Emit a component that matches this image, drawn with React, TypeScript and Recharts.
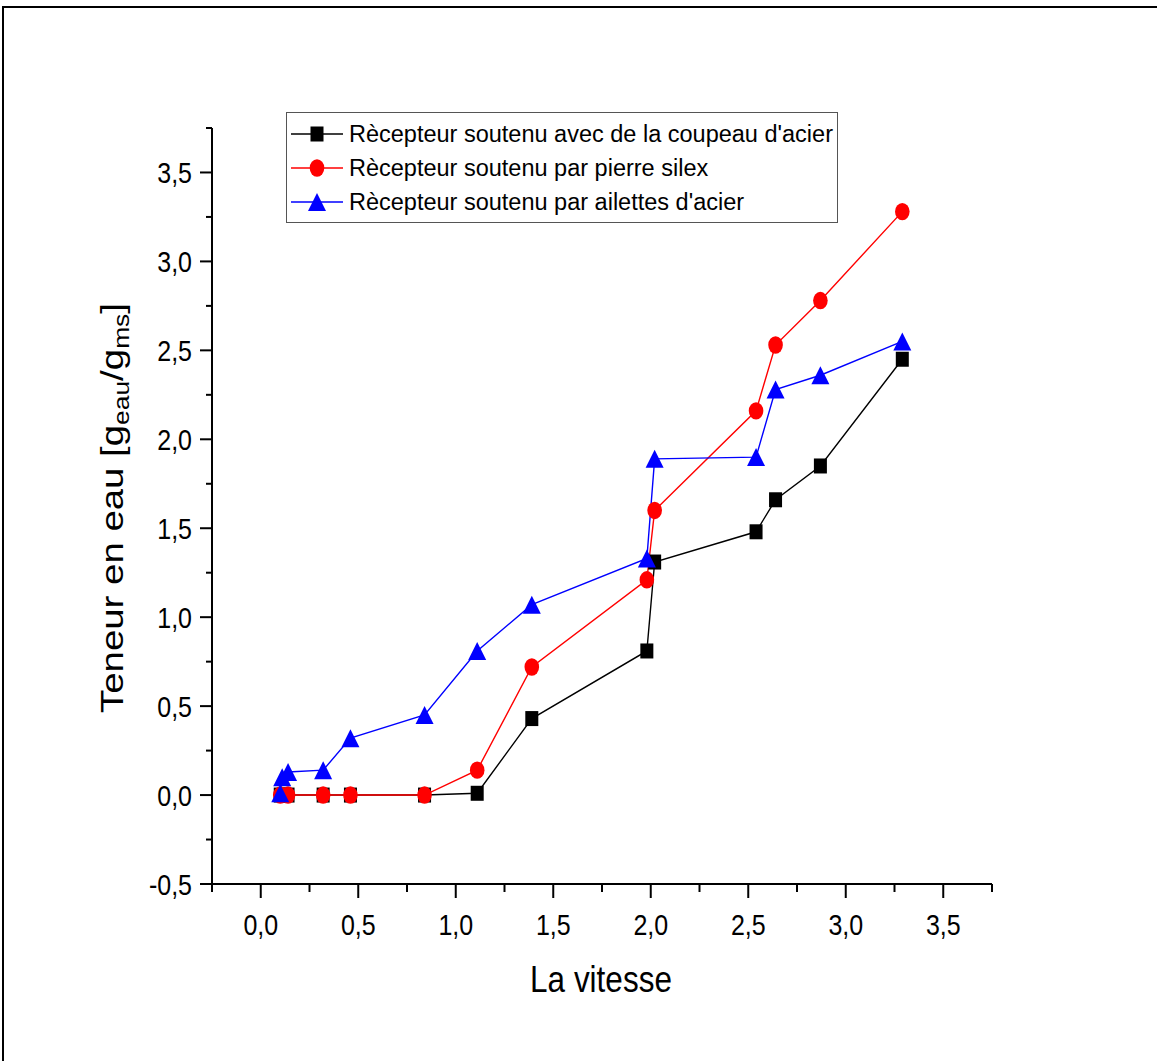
import React from 'react';
import { LineChart, Line, XAxis, YAxis, Legend } from 'recharts';

// vitesse values (same for the steel-chip and flint series)
const xsAcier = [0.1, 0.14, 0.32, 0.46, 0.84, 1.11, 1.39, 1.98, 2.02, 2.54, 2.64, 2.87, 3.29];
const ysCoupeau = [0, 0, 0, 0, 0, 0.01, 0.43, 0.81, 1.31, 1.48, 1.66, 1.85, 2.45];
const ysSilex = [0, 0, 0, 0, 0, 0.14, 0.72, 1.21, 1.6, 2.16, 2.53, 2.78, 3.28];

const xsAilettes = [0.1, 0.11, 0.14, 0.32, 0.46, 0.84, 1.11, 1.39, 1.98, 2.02, 2.54, 2.64, 2.87, 3.29];
const ysAilettes = [0.01, 0.1, 0.13, 0.14, 0.32, 0.45, 0.81, 1.07, 1.33, 1.89, 1.9, 2.28, 2.36, 2.55];

const xTicks = [-0.25, 0, 0.25, 0.5, 0.75, 1, 1.25, 1.5, 1.75, 2, 2.25, 2.5, 2.75, 3, 3.25, 3.5, 3.75];
const yTicks = [-0.5, -0.25, 0, 0.25, 0.5, 0.75, 1, 1.25, 1.5, 1.75, 2, 2.25, 2.5, 2.75, 3, 3.25, 3.5, 3.75];

const zip = (xs: number[], ys: number[]) => xs.map((x, i) => ({ x, y: ys[i] }));

const FONT = "'Liberation Sans', Arial, sans-serif";

type Shape = 'square' | 'circle' | 'triangle';

const series = [
  { name: "Rècepteur soutenu avec de la coupeau d'acier", color: '#000000', shape: 'square' as Shape, data: zip(xsAcier, ysCoupeau) },
  { name: 'Rècepteur soutenu par pierre silex', color: '#ff0000', shape: 'circle' as Shape, data: zip(xsAcier, ysSilex) },
  { name: "Rècepteur soutenu par ailettes d'acier", color: '#0000ff', shape: 'triangle' as Shape, data: zip(xsAilettes, ysAilettes) },
];

const Marker = ({ cx, cy, shape, color }: { cx: number; cy: number; shape: Shape; color: string }) => {
  if (shape === 'square') return <rect x={cx - 6.5} y={cy - 7.5} width={13} height={15} fill={color} />;
  if (shape === 'circle') return <ellipse cx={cx} cy={cy} rx={7.3} ry={8.7} fill={color} />;
  return <polygon points={`${cx},${cy - 9} ${cx + 9},${cy + 9} ${cx - 9},${cy + 9}`} fill={color} />;
};

const isMajor = (v: number) => Math.abs(v * 2 - Math.round(v * 2)) < 1e-6;
const fmt = (v: number) => v.toFixed(1).replace('.', ',');

// the source picture is stretched vertically, so the labels are drawn a bit tall
const XTick = (props: any) => {
  const { x, y, payload } = props;
  const major = isMajor(payload.value);
  return (
    <g>
      <line x1={x} x2={x} y1={y} y2={y + (major ? 14 : 8)} stroke="#000" strokeWidth={2} />
      {major && (
        <text
          transform={`translate(${x},${y + 51}) scale(1,1.2)`}
          textAnchor="middle"
          fontSize={25}
          fontFamily={FONT}
          fill="#000"
        >
          {fmt(payload.value)}
        </text>
      )}
    </g>
  );
};

const YTick = (props: any) => {
  const { x, y, payload } = props;
  const major = isMajor(payload.value);
  return (
    <g>
      <line x1={x - (major ? 12 : 6)} x2={x} y1={y} y2={y} stroke="#000" strokeWidth={2} />
      {major && (
        <text
          transform={`translate(${x - 20},${y + 10.7}) scale(1,1.2)`}
          textAnchor="end"
          fontSize={25}
          fontFamily={FONT}
          fill="#000"
        >
          {fmt(payload.value)}
        </text>
      )}
    </g>
  );
};

const YLabel = () => (
  <text
    transform="translate(123,508) rotate(-90) scale(1.2,1)"
    textAnchor="middle"
    fontSize={32}
    fontFamily={FONT}
    fill="#000"
  >
    Teneur en eau [g
    <tspan fontSize={22} dy={6}>eau</tspan>
    <tspan dy={-6}>/g</tspan>
    <tspan fontSize={22} dy={6}>ms</tspan>
    <tspan dy={-6}>]</tspan>
  </text>
);

const XLabel = () => (
  <text transform="translate(601,992) scale(1,1.15)" textAnchor="middle" fontSize={31.5} fontFamily={FONT} fill="#000">
    La vitesse
  </text>
);

const LegendBox = () => (
  <div
    style={{
      width: 550,
      height: 105,
      border: '1px solid #555',
      background: '#fff',
      fontFamily: FONT,
      fontSize: 23.5,
      paddingTop: 4,
      boxSizing: 'content-box',
    }}
  >
    {series.map((s) => (
      <div key={s.name} style={{ display: 'flex', alignItems: 'center', height: 34 }}>
        <svg width={62} height={34} style={{ flex: 'none' }}>
          <line x1={4} x2={56} y1={17} y2={17} stroke={s.color} strokeWidth={1.5} />
          <Marker cx={30} cy={17} shape={s.shape} color={s.color} />
        </svg>
        <span style={{ color: '#000', whiteSpace: 'nowrap' }}>{s.name}</span>
      </div>
    ))}
  </div>
);

export default function App() {
  return (
    <div style={{ position: 'absolute', left: 0, top: 0, width: 1157, height: 1061, background: '#fff', overflow: 'hidden' }}>
      <div
        style={{
          position: 'absolute',
          left: 2,
          top: 6,
          width: 1200,
          height: 1100,
          borderTop: '2px solid #000',
          borderLeft: '2px solid #000',
        }}
      />
      <LineChart width={1157} height={1061} margin={{ top: 128, right: 165, bottom: 77, left: 112 }}>
        <XAxis
          type="number"
          dataKey="x"
          domain={[-0.25, 3.75]}
          ticks={xTicks}
          interval={0}
          height={100}
          tickSize={0}
          tickMargin={0}
          tickLine={false}
          axisLine={{ stroke: '#000', strokeWidth: 2 }}
          tick={XTick}
          label={{ content: XLabel }}
          allowDataOverflow
        />
        <YAxis
          type="number"
          dataKey="y"
          domain={[-0.5, 3.75]}
          ticks={yTicks}
          interval={0}
          width={100}
          tickSize={0}
          tickMargin={0}
          tickLine={false}
          axisLine={{ stroke: '#000', strokeWidth: 2 }}
          tick={YTick}
          label={{ content: YLabel }}
          allowDataOverflow
        />
        <Legend
          layout="vertical"
          align="center"
          verticalAlign="middle"
          content={LegendBox}
          wrapperStyle={{ position: 'absolute', left: 286, top: 112, width: 552, height: 110, bottom: 'auto', right: 'auto' }}
        />
        {series.map((s) => (
          <Line
            key={s.name}
            data={s.data}
            dataKey="y"
            name={s.name}
            type="linear"
            stroke={s.color}
            strokeWidth={1.4}
            isAnimationActive={false}
            dot={(p: any) => (
              <Marker key={`${s.shape}-${p.index}`} cx={p.cx} cy={p.cy} shape={s.shape} color={s.color} />
            )}
            activeDot={false}
          />
        ))}
      </LineChart>
    </div>
  );
}
